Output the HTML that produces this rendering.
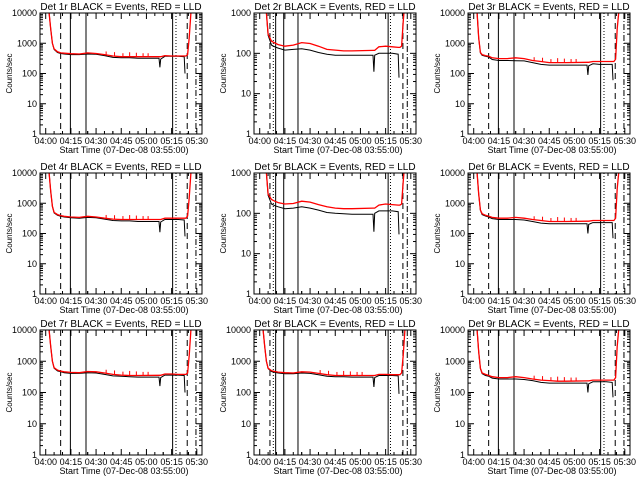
<!DOCTYPE html>
<html><head><meta charset="utf-8"><style>
html,body{margin:0;padding:0;background:#fff;}
svg{display:block;font-family:"Liberation Sans",sans-serif;}
</style></head><body>
<svg id="chart" width="640" height="480" viewBox="0 0 640 480"></svg>
<script>
// Minutes since 03:55:00
const times = [1.6, 7, 8, 9, 10, 12, 14, 16, 20, 25, 30, 35, 40, 45, 50, 55, 60, 72.5, 73, 73.5, 76, 80, 84, 87.5, 88, 88.5, 89.5, 90.5, 91.5, 93];
const titles = ["Det 1r","Det 2r","Det 3r","Det 4r","Det 5r","Det 6r","Det 7r","Det 8r","Det 9r"];
const yMaxDecade = [4,3,4,4,3,4,4,4,4];
const red1 = [12000,10000,3000,1000,650,520,480,470,450,440,480,460,420,380,360,360,360,360,360,360,390,380,380,380,380,380,420,1500,10000,12000];
const blk1 = [12000,10000,3000,1000,620,490,460,440,420,420,440,430,390,340,330,330,320,320,160,300,370,370,370,360,100,null,null,null,null,null];
const red2 = [2000,2000,2000,1000,300,200,180,165,150,160,185,175,150,125,120,115,115,118,118,118,145,150,145,140,140,140,150,600,2000,2000];
const blk2 = [2000,2000,2000,1000,280,160,145,135,120,125,130,120,105,95,90,90,90,90,35,90,100,100,100,95,25,null,null,null,null,null];
const red3 = [12000,10000,1500,500,420,390,370,330,310,310,330,310,270,250,230,230,230,235,235,235,250,250,250,250,250,250,300,3000,12000,12000];
const blk3 = [12000,10000,1500,480,400,370,350,290,270,270,265,260,230,200,190,190,190,190,90,180,210,200,200,200,60,null,null,null,null,null];
const red4 = [12000,10000,2500,800,500,420,390,370,350,340,370,350,320,300,290,290,290,290,290,290,320,320,320,320,320,320,380,1500,10000,12000];
const blk4 = [12000,10000,2500,780,480,400,370,350,330,320,340,330,300,270,260,260,250,250,110,240,290,290,290,280,80,null,null,null,null,null];
const red5 = [2000,2000,2000,1000,300,220,200,185,170,175,200,190,165,145,135,130,130,135,135,135,160,170,165,160,160,160,170,600,2000,2000];
const blk5 = [2000,2000,2000,1000,280,170,155,145,130,135,145,135,120,105,100,98,95,95,35,100,115,115,115,110,30,null,null,null,null,null];
const red6 = [12000,10000,2000,600,450,400,370,340,320,320,340,320,290,270,250,250,250,255,255,255,270,270,270,270,270,270,320,3000,12000,12000];
const blk6 = [12000,10000,2000,580,420,380,350,310,290,290,290,280,250,220,210,210,210,210,100,200,230,230,230,230,70,null,null,null,null,null];
const red7 = [12000,10000,3000,1000,620,520,480,460,440,430,470,460,420,380,360,350,350,355,355,355,390,390,380,380,380,380,420,1500,10000,12000];
const blk7 = [12000,10000,3000,1000,600,490,460,430,410,410,430,420,380,340,330,320,310,310,160,300,360,360,360,350,100,null,null,null,null,null];
const red8 = [12000,10000,3000,1000,600,500,470,450,430,420,460,450,410,370,350,350,350,350,350,350,380,380,370,370,370,370,420,1500,10000,12000];
const blk8 = [12000,10000,3000,1000,580,470,440,420,400,400,420,410,370,330,320,320,310,310,150,300,350,350,350,340,90,null,null,null,null,null];
const red9 = [12000,10000,2000,600,420,380,350,320,300,300,320,300,270,250,240,230,230,235,235,235,250,250,250,250,250,250,300,3000,12000,12000];
const blk9 = [12000,10000,2000,580,400,350,330,290,270,270,270,260,240,210,200,200,200,200,100,190,220,220,220,210,70,null,null,null,null,null];
const redSeries = [red1,red2,red3,red4,red5,red6,red7,red8,red9];
const blackSeries = [blk1,blk2,blk3,blk4,blk5,blk6,blk7,blk8,blk9];
const spikeTimes = [41, 46, 51, 55, 59, 63, 66];
const spikeRatios = [1.3, 1.35, 1.3, 1.4, 1.35, 1.3, 1.3];
const xTickLabels = ["04:00","04:15","04:30","04:45","05:00","05:15","05:30"];
const xTickTimes = [5, 20, 35, 50, 65, 80, 95];
const markerTimesA = [13.9, 19.7, 29, 80.6, 82.6, 89.3, 94.5];
const markerTimesB = [11.1, 13.1, 14.5, 19.3, 27.8, 81.5, 82.9, 90.3, 92.9];
const markerStylesA = ["dash","solid","solid","solid","dot","dash","dashdot"];
const markerStylesB = ["dash","dot","solid","solid","solid","solid","dot","dash","dashdot"];

const NS = "http://www.w3.org/2000/svg";
const svg = document.getElementById("chart");
const colLeft = [40, 254, 468], boxW = 162;
const rowTop = [13, 173, 330], rowH = [121, 121, 125];
const tMin = 1.6, tMax = 98.1;
function mk(tag, attrs, parent){const e=document.createElementNS(NS,tag);for(const k in attrs)e.setAttribute(k,attrs[k]);(parent||svg).appendChild(e);return e;}
const dashes = {dash:"6,4", dot:"1,2", dashdot:"6,2,1,2", solid:""};

for (let p=0;p<9;p++){
  const c=p%3, r=Math.floor(p/3);
  const L=colLeft[c], T=rowTop[r], H=rowH[r], R=L+boxW, B=T+H;
  const top = yMaxDecade[p];
  const xs = t => L + (t - tMin) / (tMax - tMin) * boxW;
  const ys = v => B - Math.log10(v) / top * H;
  const g = mk("g", {});
  
  
  const clipId = "clip"+p;
  const cp = mk("clipPath",{id:clipId},g); mk("rect",{x:L,y:T,width:boxW,height:H},cp);
  const tt = mk("text",{x:L+boxW/2,y:T-3,"text-anchor":"middle","font-size":"10"},g);
  tt.textContent = titles[p] + " BLACK = Events, RED = LLD";
  
  
  const yl = mk("text",{x:0,y:0,"font-size":"8","text-anchor":"middle",transform:`translate(${L-28},${T+H/2}) rotate(-90)`},g);
  yl.textContent = "Counts/sec";
  
  
  for (let d=0; d<=top; d++){
    const y = ys(Math.pow(10,d));
    mk("line",{x1:L,x2:L+6,y1:y,y2:y,stroke:"#000"},g);
    mk("line",{x1:R,x2:R-6,y1:y,y2:y,stroke:"#000"},g);
    const lab = mk("text",{x:L-3,y:y+3,"text-anchor":"end","font-size":"9"},g);
    lab.textContent = String(Math.pow(10,d));
    
    
    if (d<top) for (let m=2;m<10;m++){
      const ym = ys(m*Math.pow(10,d));
      mk("line",{x1:L,x2:L+3,y1:ym,y2:ym,stroke:"#000"},g);
      mk("line",{x1:R,x2:R-3,y1:ym,y2:ym,stroke:"#000"},g);
    }
  }
  xTickTimes.forEach((t,i)=>{
    const x = xs(t);
    mk("line",{x1:x,x2:x,y1:B,y2:B-6,stroke:"#000"},g);
    mk("line",{x1:x,x2:x,y1:T,y2:T+6,stroke:"#000"},g);
    for (let k=1;k<3;k++){const xm=xs(t+5*k); if(xm<R){mk("line",{x1:xm,x2:xm,y1:B,y2:B-3,stroke:"#000"},g);mk("line",{x1:xm,x2:xm,y1:T,y2:T+3,stroke:"#000"},g);}}
    const xm0=xs(t-5); if(xm0>L){mk("line",{x1:xm0,x2:xm0,y1:B,y2:B-3,stroke:"#000"},g);}
    const lab = mk("text",{x:x,y:B+10,"text-anchor":"middle","font-size":"9"},g);
    lab.textContent = xTickLabels[i];
    
    
  });
  const xl = mk("text",{x:L+boxW/2+3,y:B+19,"text-anchor":"middle","font-size":"9"},g);
  xl.textContent = "Start Time (07-Dec-08 03:55:00)";
  
  
  const mt = c===1 ? markerTimesB : markerTimesA;
  const ms = c===1 ? markerStylesB : markerStylesA;
  mt.forEach((t,i)=>{
    const x = xs(t);
    const ln = mk("line",{x1:x,x2:x,y1:T,y2:B,stroke:"#000","stroke-width":"1","stroke-dasharray":dashes[ms[i]]},g);
    
    
  });
  const plotG = mk("g",{"clip-path":`url(#${clipId})`},g);
  function path(vals){
    let d="", pen=false;
    for (let i=0;i<times.length;i++){
      const v=vals[i];
      if (v===null){pen=false;continue;}
      d += (pen?"L":"M") + xs(times[i]).toFixed(1) + "," + ys(v).toFixed(1);
      pen=true;
    }
    return d;
  }
  const bl = mk("path",{d:path(blackSeries[p]),fill:"none",stroke:"#000","stroke-width":"1"},plotG);
  
  
  const rl = mk("path",{d:path(redSeries[p]),fill:"none",stroke:"#f00","stroke-width":"1.3"},plotG);
  
  
  if (top===4){
    spikeTimes.forEach((t,i)=>{
      let j=0; while(j<times.length-1 && times[j+1]<t) j++;
      const f=(t-times[j])/(times[j+1]-times[j]);
      const v=redSeries[p][j]*(1-f)+redSeries[p][j+1]*f;
      const sp = mk("line",{x1:xs(t),x2:xs(t),y1:ys(v),y2:ys(v*spikeRatios[i]),stroke:"#f00","stroke-width":"1"},plotG);
      
      
    });
  }
  const fr = mk("rect",{x:L,y:T,width:boxW,height:H,fill:"none",stroke:"#000","stroke-width":"1"},g);
  
  
}
</script>
</body></html>
